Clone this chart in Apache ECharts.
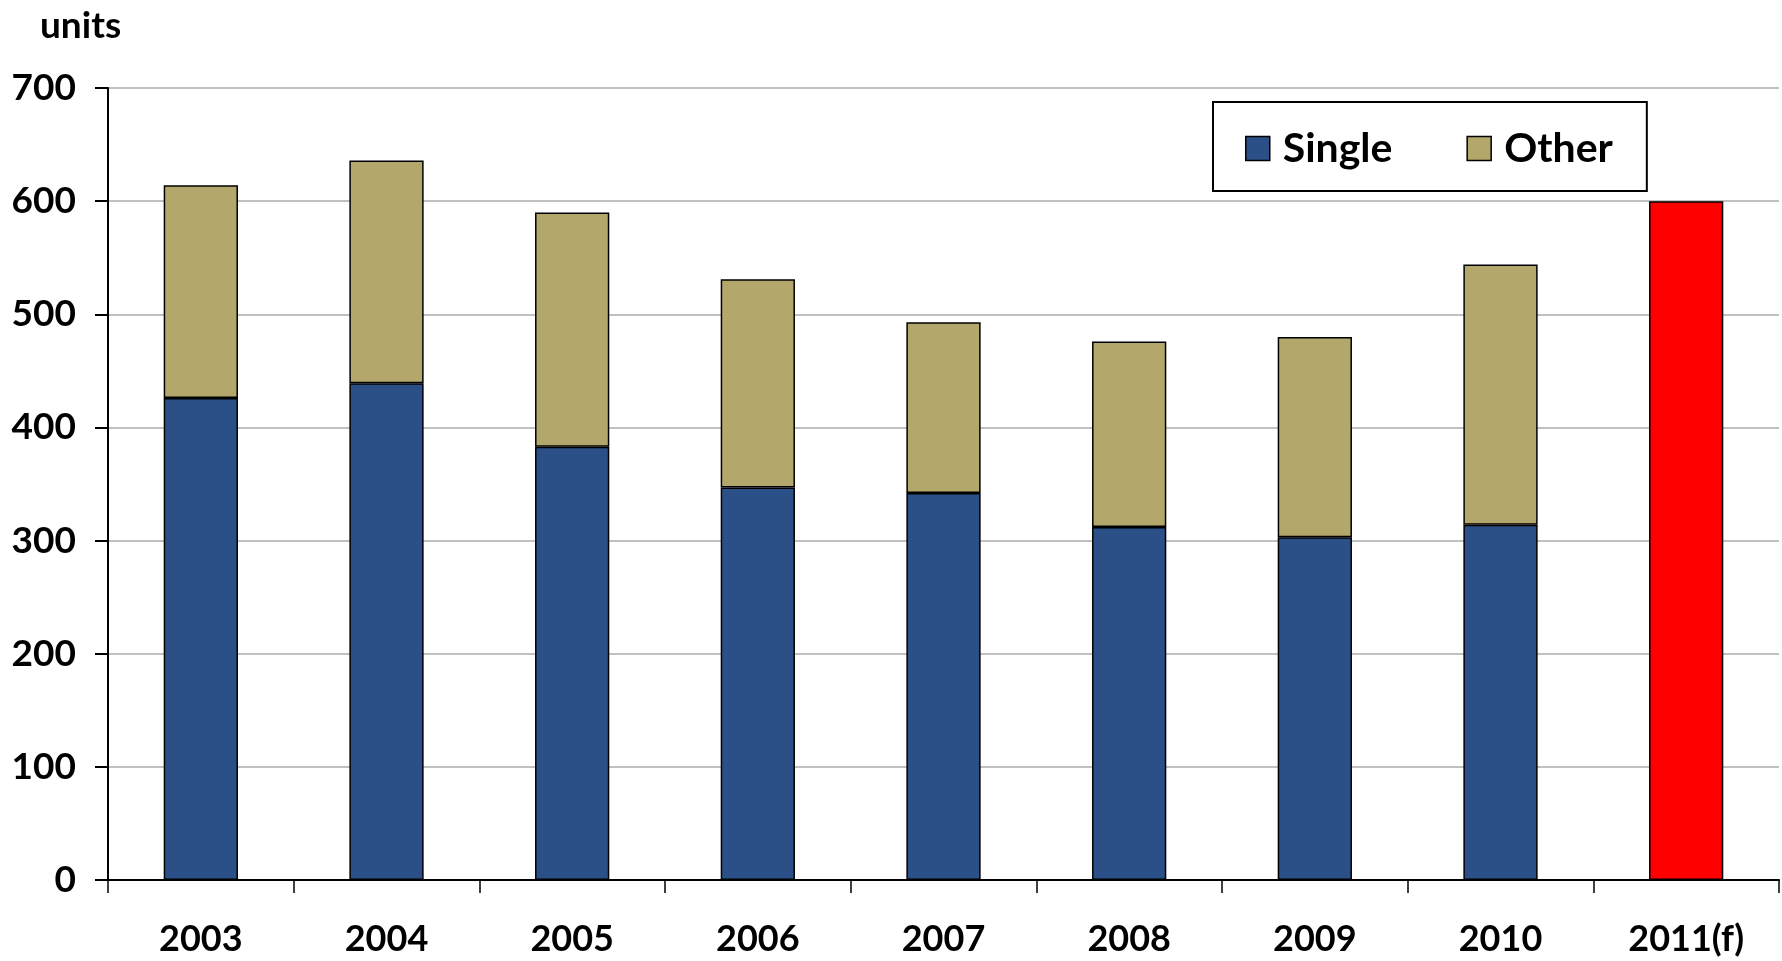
<!DOCTYPE html>
<html>
<head>
<meta charset="utf-8">
<title>units</title>
<script src="https://cdn.jsdelivr.net/npm/echarts@6/dist/echarts.min.js"></script>
<style>
  html, body { margin: 0; padding: 0; background: #fff; }
  #chart { width: 1782px; height: 961px; }
</style>
</head>
<body>
<div id="chart"></div>
<script>
// data
const years = ['2003', '2004', '2005', '2006', '2007', '2008', '2009', '2010', '2011(f)']
const singleValues = [426, 439, 383, 347, 342, 312, 303, 314]
const otherValues = [188, 197, 207, 184, 151, 164, 177, 230]
const forecast2011 = 600
const yTicks = [0, 100, 200, 300, 400, 500, 600, 700]

const font = 'Lato, "Open Sans", sans-serif'

const chart = echarts.init(document.getElementById('chart'))

// 2011 is a single red forecast bar, kept in the first stack slot
const singleData = singleValues.map(v => v).concat([
  { value: forecast2011, itemStyle: { color: '#ff0000' } }
])
const otherData = otherValues.map(v => v).concat(['-'])

const option = {
  animation: false,
  backgroundColor: '#ffffff',
  title: {
    text: 'units',
    left: 35,
    top: 3,
    textStyle: {
      fontFamily: font,
      fontWeight: 'bold',
      fontSize: 37,
      color: '#000'
    }
  },
  legend: {
    left: 1213,
    top: 102,
    padding: [26, 34, 22, 32],
    itemGap: 74,
    itemWidth: 24,
    itemHeight: 24,
    borderColor: '#000',
    borderWidth: 2,
    icon: 'rect',
    itemStyle: {
      borderColor: '#000',
      borderWidth: 1.5
    },
    textStyle: {
      fontFamily: font,
      fontWeight: 'bold',
      fontSize: 41,
      color: '#000',
      padding: [0, 0, 0, 8]
    },
    data: ['Single', 'Other']
  },
  grid: {
    left: 108,
    right: 3,
    top: 88,
    bottom: 81,
    containLabel: false
  },
  xAxis: {
    type: 'category',
    data: years,
    boundaryGap: true,
    axisLine: { show: true, lineStyle: { color: '#000', width: 2 } },
    axisTick: { show: true, length: 13, lineStyle: { color: '#000', width: 1.5 } },
    axisLabel: {
      margin: 41,
      interval: 0,
      fontFamily: font,
      fontWeight: 'bold',
      fontSize: 36,
      color: '#000'
    },
    splitLine: { show: false }
  },
  yAxis: {
    type: 'value',
    min: yTicks[0],
    max: yTicks[yTicks.length - 1],
    interval: 100,
    axisLine: { show: true, lineStyle: { color: '#000', width: 2 } },
    axisTick: { show: true, length: 13, lineStyle: { color: '#000', width: 2 } },
    axisLabel: {
      margin: 32,
      fontFamily: font,
      fontWeight: 'bold',
      fontSize: 37,
      color: '#000'
    },
    splitLine: { show: true, lineStyle: { color: '#c0c0c0', width: 2 } }
  },
  series: [
    {
      name: 'Single',
      type: 'bar',
      stack: 'total',
      barWidth: '40%',
      itemStyle: {
        color: '#2b5087',
        borderColor: '#000',
        borderWidth: 1.5
      },
      data: singleData
    },
    {
      name: 'Other',
      type: 'bar',
      stack: 'total',
      barWidth: '40%',
      itemStyle: {
        color: '#b3a76c',
        borderColor: '#000',
        borderWidth: 1.5
      },
      data: otherData
    }
  ]
}

chart.setOption(option)
</script>
</body>
</html>
